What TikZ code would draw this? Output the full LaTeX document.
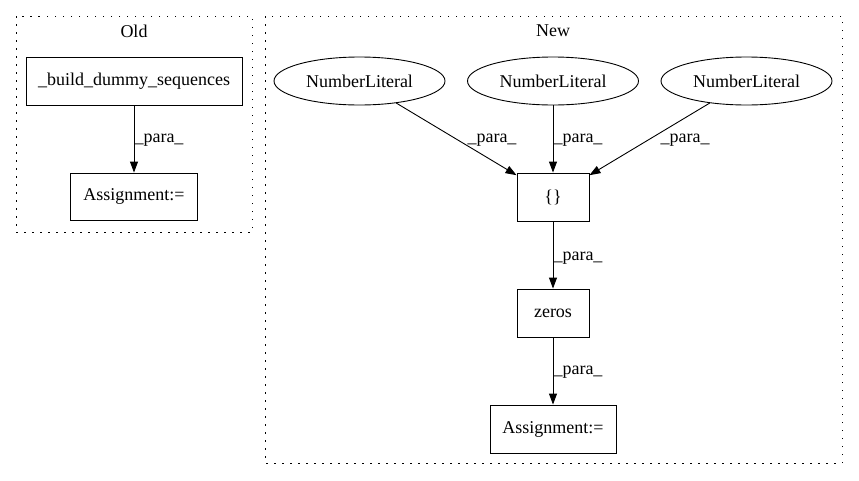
\documentclass[tikz,border=0pt]{standalone}
\usepackage{fontspec}
\setmainfont{Liberation Serif}
\usetikzlibrary{arrows.meta,shapes.geometric}
\begin{document}
\begin{tikzpicture}[x=1pt,y=-1pt,
  every node/.style={font=\fontsize{18}{22}\selectfont},
  box/.style={draw, line width=0.9pt, rectangle, inner sep=0pt},
  oval/.style={draw, line width=0.9pt, ellipse, inner sep=0pt, minimum width=171pt, minimum height=48pt},
  cluster/.style={draw, line width=1pt, dash pattern=on 1.5pt off 6.5pt},
  edge/.style={draw, line width=0.9pt, -{Triangle[length=11pt,width=8pt]}},
  lbl/.style={inner sep=0pt}]
\useasboundingbox (0,0) rectangle (859,480);
% clusters
\draw[cluster] (16,16) rectangle (252,232);
\draw[cluster] (265,16) rectangle (842,463);
\node[lbl] (oldt) at (134,31) {Old};
\node[lbl] (newt) at (553,31) {New};
% old
\node[box, minimum width=216pt, minimum height=48pt] (bds) at (134,81) {\_build\_dummy\_sequences};
\node[box, minimum width=127pt, minimum height=47pt] (oa) at (134,196.5) {Assignment:=};
\draw[edge] (bds) -- (oa);
\node[lbl] (l0) at (159,140) {\_para\_};
% new
\node[oval] (n1) at (359.5,81) {NumberLiteral};
\node[oval] (n2) at (553,81) {NumberLiteral};
\node[oval] (n3) at (746.5,81) {NumberLiteral};
\node[box, minimum width=72pt, minimum height=48pt] (br) at (553,197) {\{\}};
\node[box, minimum width=72pt, minimum height=48pt] (ze) at (553,313) {zeros};
\node[box, minimum width=126pt, minimum height=48pt] (na) at (553,429) {Assignment:=};
\draw[edge] (n1) -- (br);
\draw[edge] (n2) -- (br);
\draw[edge] (n3) -- (br);
\draw[edge] (br) -- (ze);
\draw[edge] (ze) -- (na);
\node[lbl] (l1) at (492,140) {\_para\_};
\node[lbl] (l2) at (578,140) {\_para\_};
\node[lbl] (l3) at (685,140) {\_para\_};
\node[lbl] (l4) at (578,258) {\_para\_};
\node[lbl] (l5) at (578,372) {\_para\_};
\end{tikzpicture}
\end{document}
